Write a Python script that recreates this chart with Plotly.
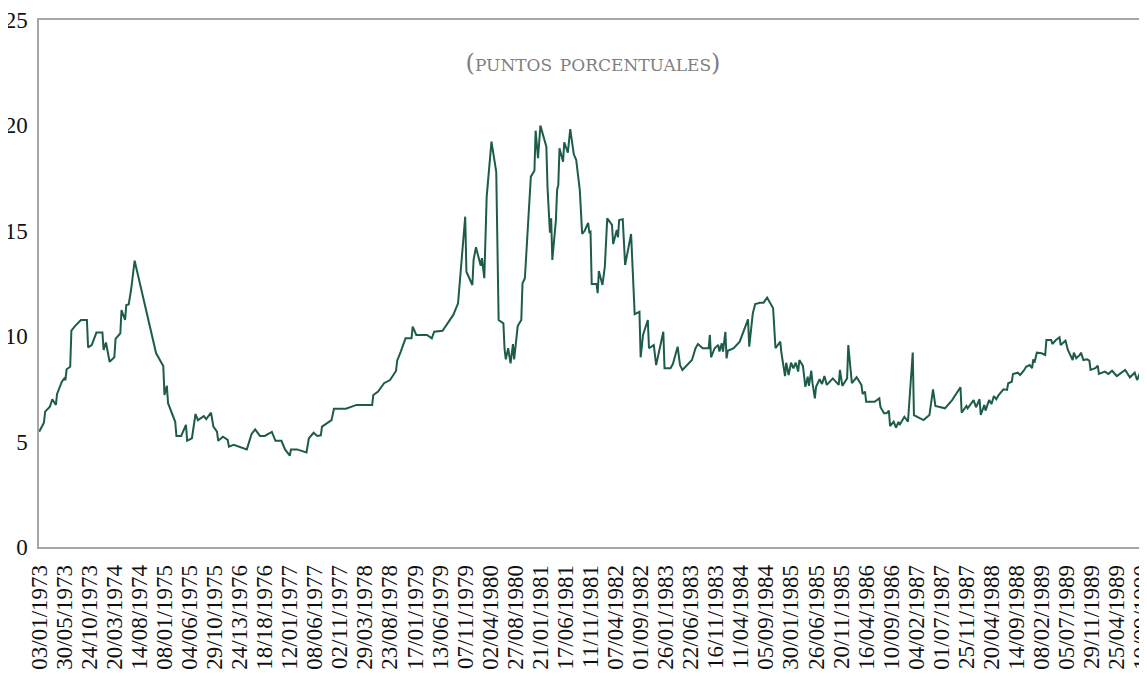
import numpy as np
import pandas as pd
import plotly.graph_objects as go

# ---- data (weeks since 03/01/1973, spread in percentage points) ----
start_date = "1973-01-03"
weeks = [
    0, 4, 5, 9, 11, 14, 15, 19, 21, 22,
    23, 26, 27, 30, 35, 40, 41, 44, 48, 53,
    54, 56, 59, 63, 64, 68, 69, 72, 73, 75,
    77, 80, 98, 104, 105, 107, 108, 114, 115, 119,
    123, 124, 128, 131, 133, 138, 140, 144, 146, 149,
    150, 154, 158, 159, 163, 174, 178, 181, 185, 189,
    195, 198, 203, 206, 210, 211, 216, 224, 226, 230,
    233, 236, 237, 240, 245, 247, 257, 266, 279, 280,
    284, 289, 294, 299, 300, 303, 307, 312, 313, 316,
    325, 329, 331, 338, 343, 347, 351, 357, 358, 363,
    364, 366, 370, 371, 373, 374, 375, 379, 383, 385,
    389, 390, 391, 393, 395, 397, 398, 401, 404, 405,
    407, 412, 415, 416, 418, 420, 425, 426, 427, 428,
    429, 430, 433, 434, 435, 436, 439, 440, 443, 445,
    448, 450, 453, 455, 457, 460, 461, 462, 463, 467,
    468, 469, 472, 474, 476, 480, 481, 484, 485, 486,
    489, 491, 496, 499, 503, 504, 506, 510, 511, 515,
    517, 523, 524, 529, 531, 535, 537, 539, 547, 550,
    552, 556, 561, 562, 563, 566, 569, 570, 572, 573,
    575, 576, 577, 582, 587, 594, 595, 598, 600, 604,
    607, 610, 615, 616, 617, 621, 622, 625, 626, 628,
    630, 632, 634, 636, 637, 640, 642, 644, 645, 647,
    648, 650, 651, 654, 656, 658, 660, 665, 670, 671,
    673, 677, 678, 681, 685, 689, 690, 692, 693, 700,
    704, 705, 708, 710, 712, 713, 716, 718, 720, 721,
    724, 725, 728, 732, 733, 741, 746, 749, 751, 759,
    765, 772, 773, 777, 778, 783, 785, 788, 789, 792,
    793, 796, 798, 800, 802, 804, 808, 811, 812, 815,
    816, 820, 822, 825, 827, 830, 832, 833, 834, 836,
    840, 843, 844, 848, 849, 852, 855, 856, 860, 862,
    866, 867, 869, 872, 873, 875, 878, 880, 881, 885,
    887, 888, 893, 896, 899, 903, 910, 914, 918, 920,
    922, 925, 928,
]
values = [
    5.47, 5.90, 6.42, 6.66, 7.01, 6.74, 7.26, 7.84, 8.00, 7.92,
    8.43, 8.55, 10.26, 10.48, 10.77, 10.77, 9.47, 9.58, 10.17, 10.17,
    9.35, 9.70, 8.79, 9.00, 9.87, 10.14, 11.24, 10.77, 11.48, 11.51,
    12.19, 13.58, 9.19, 8.59, 7.21, 7.65, 6.82, 5.94, 5.27, 5.27,
    5.79, 5.04, 5.16, 6.31, 6.02, 6.21, 6.07, 6.37, 5.71, 5.47,
    5.04, 5.23, 5.08, 4.76, 4.85, 4.63, 5.36, 5.58, 5.27, 5.27,
    5.46, 5.04, 5.04, 4.63, 4.33, 4.63, 4.63, 4.49, 5.16, 5.42,
    5.27, 5.30, 5.71, 5.82, 6.02, 6.56, 6.56, 6.74, 6.74, 7.21,
    7.37, 7.77, 7.92, 8.35, 8.84, 9.27, 9.90, 9.90, 10.45, 10.06,
    10.06, 9.90, 10.21, 10.26, 10.69, 11.01, 11.56, 15.67, 13.06, 12.43,
    13.62, 14.22, 13.34, 13.70, 12.75, 14.88, 16.62, 19.23, 17.80, 10.77,
    10.61, 9.38, 8.90, 9.43, 8.71, 9.63, 8.90, 10.48, 10.77, 12.51,
    12.75, 17.57, 17.85, 19.75, 18.44, 19.99, 18.99, 17.02, 15.99, 14.91,
    15.59, 13.62, 15.51, 16.94, 17.17, 18.91, 18.28, 19.20, 18.71, 19.82,
    18.63, 18.36, 16.94, 14.85, 14.99, 15.38, 14.93, 14.96, 12.48, 12.48,
    12.04, 13.09, 12.43, 13.30, 15.59, 15.28, 14.37, 15.04, 14.69, 15.51,
    15.55, 13.38, 14.85, 11.05, 11.16, 9.00, 10.06, 10.77, 9.43, 9.58,
    8.63, 10.21, 8.48, 8.48, 8.68, 9.50, 8.63, 8.40, 8.87, 9.43,
    9.63, 9.43, 9.43, 10.06, 9.00, 9.43, 9.58, 9.27, 9.66, 9.27,
    10.21, 8.95, 9.31, 9.43, 9.74, 10.80, 9.50, 11.09, 11.53, 11.59,
    11.59, 11.83, 11.32, 10.29, 9.43, 9.74, 9.19, 8.11, 8.74, 8.16,
    8.74, 8.48, 8.74, 8.32, 8.87, 8.59, 7.60, 8.08, 7.64, 8.36,
    7.77, 7.05, 7.60, 7.96, 7.73, 8.11, 7.69, 8.00, 7.69, 8.40,
    7.64, 8.00, 9.58, 7.77, 8.05, 7.69, 7.26, 7.37, 6.89, 6.89,
    7.05, 6.63, 6.34, 6.34, 6.47, 5.74, 5.94, 5.66, 5.94, 5.79,
    6.11, 6.18, 5.94, 9.22, 6.26, 6.02, 6.26, 7.48, 6.69, 6.58,
    6.97, 7.58, 6.37, 6.69, 6.58, 6.97, 6.63, 7.01, 6.26, 6.74,
    6.47, 6.97, 6.78, 7.16, 7.01, 7.21, 7.48, 7.45, 7.77, 7.84,
    8.21, 8.27, 8.16, 8.36, 8.55, 8.63, 8.48, 8.90, 8.74, 9.22,
    9.19, 9.11, 9.82, 9.82, 9.63, 9.82, 9.95, 9.58, 9.79, 9.35,
    8.87, 9.22, 8.95, 9.11, 9.22, 8.87, 8.90, 8.84, 8.40, 8.48,
    8.60, 8.21, 8.32, 8.21, 8.36, 8.11, 8.40, 8.05, 8.27, 7.92,
    8.21, 8.00, 8.27,
]
assert len(weeks) == len(values)

# tick labels as printed on the original chart (one every 21 weeks)
tick_labels = [
    "03/01/1973", "30/05/1973", "24/10/1973", "20/03/1974", "14/08/1974",
    "08/01/1975", "04/06/1975", "29/10/1975", "24/13/1976", "18/18/1976",
    "12/01/1977", "08/06/1977", "02/11/1977", "29/03/1978", "23/08/1978",
    "17/01/1979", "13/06/1979", "07/11/1979", "02/04/1980", "27/08/1980",
    "21/01/1981", "17/06/1981", "11/11/1981", "07/04/1982", "01/09/1982",
    "26/01/1983", "22/06/1983", "16/11/1983", "11/04/1984", "05/09/1984",
    "30/01/1985", "26/06/1985", "20/11/1985", "16/04/1986", "10/09/1986",
    "04/02/1987", "01/07/1987", "25/11/1987", "20/04/1988", "14/09/1988",
    "08/02/1989", "05/07/1989", "29/11/1989", "25/04/1989", "19/09/1990",
]
tick_step_weeks = 21
y_ticks = [0, 5, 10, 15, 20, 25]
title_text = "(puntos porcentuales)"

# ---- build ----
t0 = pd.Timestamp(start_date)
dates = t0 + pd.to_timedelta(np.array(weeks) * 7, unit="D")
tick_dates = [t0 + pd.Timedelta(days=7 * tick_step_weeks * i) for i in range(len(tick_labels))]

fig = go.Figure(
    go.Scatter(
        x=dates, y=values, mode="lines",
        line=dict(color="#1d5c4b", width=2),
        hoverinfo="x+y",
    )
)

serif = "Liberation Serif, Times New Roman, serif"
axis_grey = "#a6a6a6"

# the page body has an 8px margin, so the figure is sized to fill the rest
fig.update_layout(
    width=1139, height=669,
    margin=dict(l=31, r=0, t=12, b=130, autoexpand=False),
    paper_bgcolor="white", plot_bgcolor="white",
    showlegend=False,
    title=dict(
        text=title_text, x=0.5, xref="paper", xanchor="center",
        y=0.92, yref="paper", yanchor="middle",
        font=dict(family="DejaVu Serif, serif", size=24, color="#7f7f7f",
                  variant="small-caps"),
    ),
    xaxis=dict(
        type="date",
        range=[t0 - pd.Timedelta(days=1), t0 + pd.Timedelta(days=928.3 * 7)],
        tickmode="array", tickvals=tick_dates, ticktext=tick_labels,
        tickangle=-90, ticks="", ticklabelstandoff=7,
        ticklabeloverflow="allow",
        tickfont=dict(family=serif, size=23, color="#111111"),
        showgrid=False, zeroline=False,
        showline=True, linecolor=axis_grey, linewidth=1.5, mirror=True,
        automargin=False,
    ),
    yaxis=dict(
        range=[0, 25], tickmode="array", tickvals=y_ticks,
        ticks="", ticklabelstandoff=5,
        tickfont=dict(family=serif, size=23, color="#111111"),
        showgrid=False, zeroline=False,
        showline=True, linecolor=axis_grey, linewidth=1.5, mirror=False,
        automargin=False,
    ),
)

fig.write_html("out.html")
